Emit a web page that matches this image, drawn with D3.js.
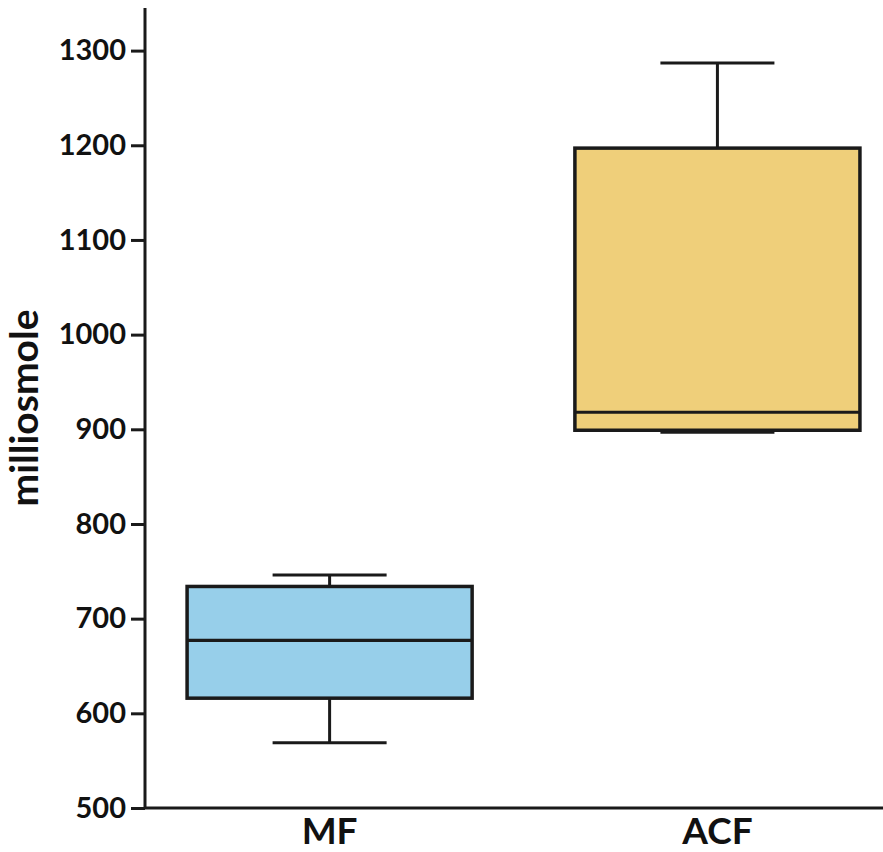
<!DOCTYPE html>
<html>
<head>
<meta charset="utf-8">
<script src="https://cdn.jsdelivr.net/npm/d3@7"></script>
<style>
  html, body { margin: 0; padding: 0; background: #fff; }
  svg { display: block; }
  text { font-family: Lato, "Open Sans", sans-serif; font-weight: 700; fill: #111; }
</style>
</head>
<body>
<svg id="chart" width="883" height="852"></svg>
<script>
// Box-plot summary per group (milliosmole)
const groups      = ["MF", "ACF"];
const whiskerLow  = [569, 897];
const quartile1   = [616, 899];
const medians     = [677, 918];
const quartile3   = [734, 1197];
const whiskerHigh = [746, 1287];
const fills       = ["#97CFEA", "#EFCF7A"];
const yTicks      = [500, 600, 700, 800, 900, 1000, 1100, 1200, 1300];

const rows = groups.map((g, i) => ({
  g, lo: whiskerLow[i], q1: quartile1[i], med: medians[i],
  q3: quartile3[i], hi: whiskerHigh[i], fill: fills[i]
}));

const W = 883, H = 852;
const margin = { left: 145, right: 0, top: 8, bottom: 44 };
const svg = d3.select("#chart");

const y = d3.scaleLinear().domain([500, 1345]).range([H - margin.bottom, margin.top]);
const x = d3.scaleBand().domain(groups)
  .range([margin.left, W - margin.right])
  .paddingInner(0.265).paddingOuter(0.084).align(0.646);

const ink = "#1a1a1a";
const bw = x.bandwidth();
const capW = bw * 0.4;

const g = svg.append("g");

rows.forEach(d => {
  const cx = x(d.g) + bw / 2;
  // whisker stems
  g.append("line").attr("x1", cx).attr("x2", cx).attr("y1", y(d.hi)).attr("y2", y(d.q3))
    .attr("stroke", ink).attr("stroke-width", 3);
  g.append("line").attr("x1", cx).attr("x2", cx).attr("y1", y(d.lo)).attr("y2", y(d.q1))
    .attr("stroke", ink).attr("stroke-width", 3);
  // whisker caps
  [d.lo, d.hi].forEach(v => {
    g.append("line").attr("x1", cx - capW / 2).attr("x2", cx + capW / 2)
      .attr("y1", y(v)).attr("y2", y(v)).attr("stroke", ink).attr("stroke-width", 3);
  });
  // box
  g.append("rect").attr("x", x(d.g)).attr("width", bw)
    .attr("y", y(d.q3)).attr("height", y(d.q1) - y(d.q3))
    .attr("fill", d.fill).attr("stroke", ink).attr("stroke-width", 3.5);
  // median
  g.append("line").attr("x1", x(d.g)).attr("x2", x(d.g) + bw)
    .attr("y1", y(d.med)).attr("y2", y(d.med)).attr("stroke", ink).attr("stroke-width", 3.2);
});

// Y axis
const yAxis = svg.append("g").attr("transform", `translate(${margin.left},0)`)
  .call(d3.axisLeft(y).tickValues(yTicks).tickSize(14).tickPadding(5).tickFormat(d3.format("d")));
yAxis.select(".domain").attr("d", `M0,${margin.top}V${y(500)}`).attr("stroke", ink).attr("stroke-width", 3);
yAxis.selectAll(".tick line").attr("stroke", ink).attr("stroke-width", 3);
yAxis.selectAll(".tick text").attr("font-size", 29).attr("fill", "#111")
  .style("font-family", "Lato, 'Open Sans', sans-serif").style("font-weight", 700);

// X axis
const xAxis = svg.append("g").attr("transform", `translate(0,${y(500)})`)
  .call(d3.axisBottom(x).tickSize(0).tickPadding(10));
xAxis.select(".domain").attr("d", `M${margin.left},0H${W}`).attr("stroke", ink).attr("stroke-width", 3);
xAxis.selectAll(".tick text").attr("font-size", 37).attr("fill", "#111")
  .style("font-family", "Lato, 'Open Sans', sans-serif").style("font-weight", 700);

// Y axis title
svg.append("text")
  .attr("transform", `translate(38,${(margin.top + y(500)) / 2}) rotate(-90)`)
  .attr("text-anchor", "middle")
  .attr("font-size", 39)
  .text("milliosmole");
</script>
</body>
</html>
